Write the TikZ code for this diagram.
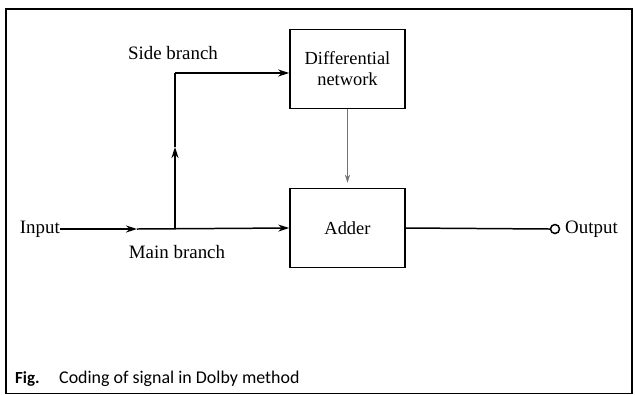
\documentclass[tikz,border=0pt]{standalone}
\usepackage{fontspec}
\setmainfont{Liberation Serif}
\newfontfamily\capfont{Carlito}
\usetikzlibrary{arrows.meta}
\begin{document}
\begin{tikzpicture}[x=1bp,y=-1bp,
  blk/.style={draw,line width=1.6pt,minimum width=115bp,minimum height=79bp,inner sep=0pt,font=\fontsize{18.5}{21}\selectfont,align=center},
  lbl/.style={inner sep=0pt,font=\fontsize{19}{21}\selectfont},
  wire/.style={line width=1.5pt},
  arr/.style={wire,-{Stealth[length=11bp,width=7bp]}},
  thin/.style={line width=0.5pt,black!55,-{Stealth[length=8bp,width=5bp]}}]
\useasboundingbox (0,0) rectangle (635,394);
\draw[line width=2.5pt] (6,394) -- (6,9) -- (632,9) -- (632,394);
\draw[line width=1pt] (6,393) -- (632,393);
\node[blk] (diff) at (347.5,69) {Differential\\network};
\node[blk] (adder) at (347.5,228) {Adder};
\node[lbl,anchor=east] (input) at (60,229) {Input};
\node[draw,circle,line width=1.5pt,minimum size=9bp,inner sep=0pt] (out) at (555,229) {};
\node[lbl,anchor=west] (outlbl) at (565,229) {Output};
\node[lbl] (side) at (173,53) {Side branch};
\node[lbl] (mainb) at (177,252) {Main branch};
\coordinate (a1) at (137,229);
\coordinate (split) at (175,229);
\coordinate (up) at (175,147);
\coordinate (corner) at (175,73);
\draw[arr] (input.east) -- (a1);
\draw[arr] (a1) -- (adder.west);
\draw[arr] (split) -- (up);
\draw[wire] (up) -- (corner);
\draw[arr] (corner) -- (diff.west |- corner);
\draw[thin,shorten >=5bp] (diff.south) -- (adder.north);
\draw[wire] (adder.east) -- (out.west);
\node[inner sep=0pt,anchor=west,font=\capfont\bfseries\fontsize{17}{19}\selectfont] (fig) at (15,379) {Fig.};
\node[inner sep=0pt,anchor=west,font=\capfont\fontsize{18}{20}\selectfont] (cap) at (59,379) {Coding of signal in Dolby method};
\end{tikzpicture}
\end{document}
